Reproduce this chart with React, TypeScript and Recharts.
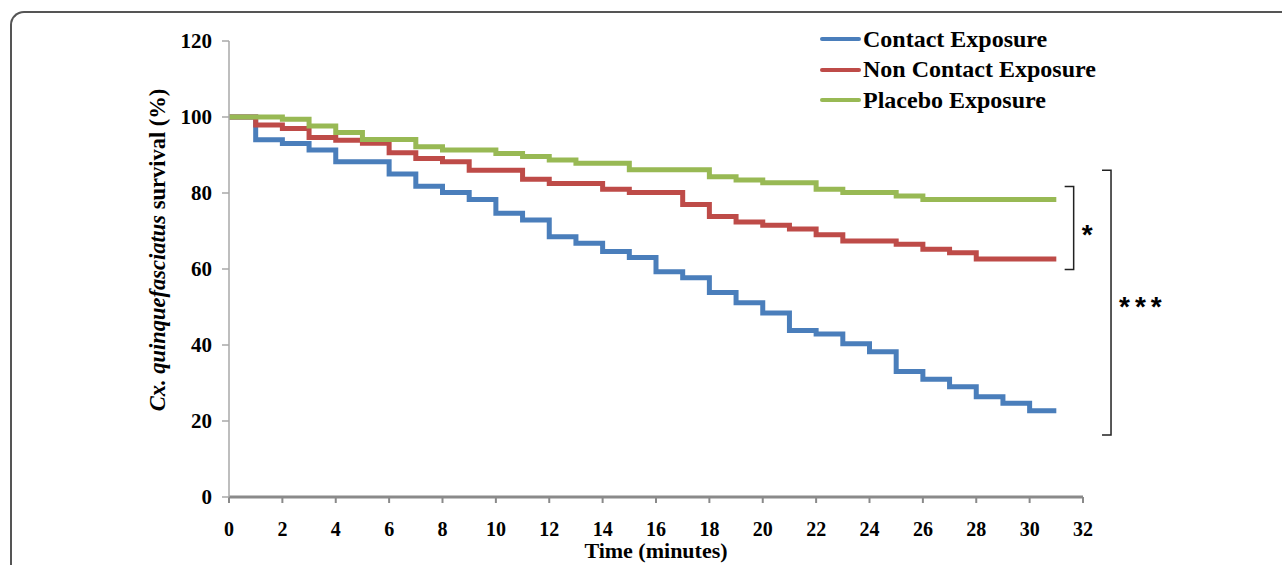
import React from "react";
import { LineChart, Line, XAxis, YAxis } from "recharts";

const minutes = [
  0, 1, 2, 3, 4, 5, 6, 7, 8, 9, 10, 11, 12, 13, 14, 15, 16, 17, 18, 19, 20,
  21, 22, 23, 24, 25, 26, 27, 28, 29, 30, 31,
];
const contact = [
  100, 94, 93, 91.3, 88.2, 88.2, 85, 81.8, 80.1, 78.3, 74.7, 72.9, 68.5, 66.8,
  64.6, 63, 59.3, 57.7, 53.8, 51.1, 48.4, 43.8, 42.9, 40.3, 38.2, 33, 31, 29,
  26.4, 24.7, 22.7, 22.7,
];
const nonContact = [
  100, 97.9, 97, 94.6, 93.9, 93.1, 90.6, 89.1, 88.2, 86, 86, 83.6, 82.5, 82.5,
  81, 80.1, 80.1, 77, 73.8, 72.4, 71.5, 70.5, 69, 67.4, 67.4, 66.5, 65.2, 64.3,
  62.6, 62.6, 62.6, 62.6,
];
const placebo = [
  100, 100, 99.4, 97.6, 95.9, 94.1, 94.1, 92.2, 91.3, 91.3, 90.4, 89.6, 88.7,
  87.8, 87.8, 86.1, 86.1, 86.1, 84.3, 83.4, 82.7, 82.7, 81, 80.1, 80.1, 79.2,
  78.3, 78.3, 78.3, 78.3, 78.3, 78.3,
];
const xTicks = [0, 2, 4, 6, 8, 10, 12, 14, 16, 18, 20, 22, 24, 26, 28, 30, 32];
const yTicks = [0, 20, 40, 60, 80, 100, 120];

const seriesNames = ["Contact Exposure", "Non Contact Exposure", "Placebo Exposure"];
const seriesKeys = ["contact", "nonContact", "placebo"];
const seriesColors = ["#4a7ebb", "#be4b48", "#98b954"];

// significance brackets, in data units (y from/to), with their star labels
const brackets = [
  { yTop: 81.7, yBottom: 59.9, xMin: 31.65, stars: "*", dy: 16 },
  { yTop: 86, yBottom: 16.3, xMin: 33.05, stars: "***", dy: 13 },
];

const W = 1282;
const H = 565;
const PLOT_LEFT = 229;
const PLOT_RIGHT = 1083;
const PLOT_TOP = 41;
const PLOT_BOTTOM = 497;

const data = minutes.map((m, i) => ({
  minute: m,
  contact: contact[i],
  nonContact: nonContact[i],
  placebo: placebo[i],
}));

const font = '"Liberation Serif", "Times New Roman", serif';

const toX = (v: number) => PLOT_LEFT + ((PLOT_RIGHT - PLOT_LEFT) * v) / 32;
const toY = (v: number) => PLOT_BOTTOM - ((PLOT_BOTTOM - PLOT_TOP) * v) / 120;

const XTick = ({ x, payload }: any) => (
  <text
    x={x}
    y={PLOT_BOTTOM + 32}
    textAnchor="middle"
    dominantBaseline="central"
    fontFamily={font}
    fontWeight="bold"
    fontSize={20}
    fill="#000"
  >
    {payload.value}
  </text>
);

const YTick = ({ y, payload }: any) => (
  <text
    x={PLOT_LEFT - 17}
    y={y}
    textAnchor="end"
    dominantBaseline="central"
    fontFamily={font}
    fontWeight="bold"
    fontSize={21}
    fill="#000"
  >
    {payload.value}
  </text>
);

const LegendBox = () => (
  <div
    style={{
      position: "absolute",
      top: 24,
      left: 820,
      fontFamily: font,
      fontWeight: "bold",
      fontSize: 24,
    }}
  >
    {seriesNames.map((name, i) => (
      <div
        key={name}
        style={{ display: "flex", alignItems: "center", height: 30.5, whiteSpace: "nowrap" }}
      >
        <svg width={43} height={10}>
          <line x1={2} y1={5} x2={39} y2={5} stroke={seriesColors[i]} strokeWidth={4} strokeLinecap="round" />
        </svg>
        <span style={{ color: "#000" }}>{name}</span>
      </div>
    ))}
  </div>
);

export default function App() {
  return (
    <div style={{ position: "absolute", left: 0, top: 0, width: W, height: H, background: "#fff", overflow: "hidden" }}>
      <div
        style={{
          position: "absolute",
          left: 10,
          top: 11,
          width: W,
          height: H,
          borderTop: "2px solid #555",
          borderLeft: "2px solid #555",
          borderTopLeftRadius: 14,
        }}
      />
      <LineChart
        width={W}
        height={H}
        data={data}
        margin={{ top: PLOT_TOP, right: W - PLOT_RIGHT, left: 0, bottom: 0 }}
        style={{ position: "absolute", left: 0, top: 0 }}
      >
        <XAxis
          dataKey="minute"
          type="number"
          domain={[0, 32]}
          ticks={xTicks}
          interval={0}
          height={H - PLOT_BOTTOM}
          axisLine={{ stroke: "#8a8a8a", strokeWidth: 3 }}
          tickLine={{ stroke: "#8a8a8a", strokeWidth: 2 }}
          tickSize={6}
          tick={<XTick />}
          label={{
            value: "Time (minutes)",
            position: "insideBottom",
            offset: 7,
            fontFamily: font,
            fontWeight: "bold",
            fontSize: 22,
            fill: "#000",
          }}
        />
        <YAxis
          type="number"
          domain={[0, 120]}
          ticks={yTicks}
          interval={0}
          width={PLOT_LEFT}
          axisLine={{ stroke: "#a8a8a8", strokeWidth: 1.5 }}
          tickLine={{ stroke: "#a8a8a8", strokeWidth: 1.5 }}
          tickSize={7}
          tick={<YTick />}
          label={{
            content: () => (
              <text
                transform={`translate(157, 250) rotate(-90)`}
                textAnchor="middle"
                dominantBaseline="central"
                fontFamily={font}
                fontWeight="bold"
                fontSize={22.5}
                fill="#000"
              >
                <tspan fontStyle="italic">Cx. quinquefasciatus</tspan>
                <tspan> survival (%)</tspan>
              </text>
            ),
          }}
        />
        {seriesKeys.map((k, i) => (
          <Line
            key={k}
            dataKey={k}
            name={seriesNames[i]}
            type="stepAfter"
            stroke={seriesColors[i]}
            strokeWidth={5}
            dot={false}
            activeDot={false}
            isAnimationActive={false}
          />
        ))}
      </LineChart>
      <LegendBox />
      <svg width={W} height={H} style={{ position: "absolute", left: 0, top: 0, pointerEvents: "none" }}>
        {brackets.map((b) => {
          const xr = toX(b.xMin);
          const xl = xr - 9;
          const yt = toY(b.yTop);
          const yb = toY(b.yBottom);
          return (
            <g key={b.stars}>
              <polyline
                points={`${xl},${yt} ${xr},${yt} ${xr},${yb} ${xl},${yb}`}
                fill="none"
                stroke="#222"
                strokeWidth={1.5}
              />
              <text
                x={xr + 8}
                y={(yt + yb) / 2 + b.dy}
                fontFamily='"Liberation Sans", Arial, sans-serif'
                fontWeight="bold"
                fontSize={28}
                letterSpacing={5}
                fill="#000"
              >
                {b.stars}
              </text>
            </g>
          );
        })}
      </svg>
    </div>
  );
}
